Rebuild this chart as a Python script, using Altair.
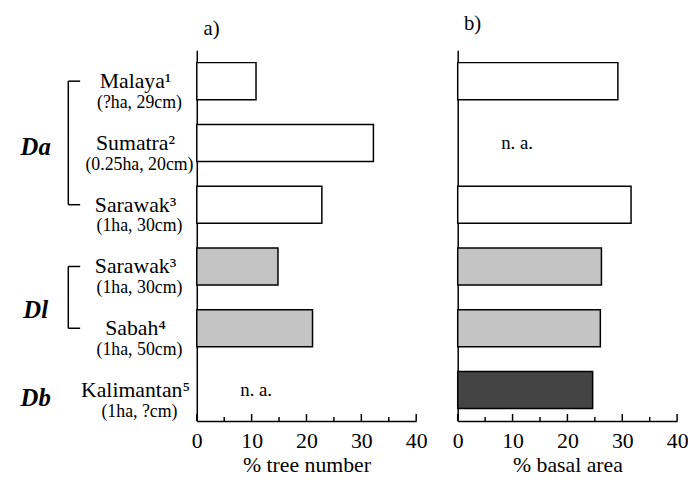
import altair as alt
import pandas as pd

# ---- data ----
keys = ["Malaya", "Sumatra", "Sarawak-Da", "Sarawak-Dl", "Sabah", "Kalimantan"]
names = ["Malaya¹", "Sumatra²", "Sarawak³", "Sarawak³", "Sabah⁴", "Kalimantan⁵"]
details = ["(?ha, 29cm)", "(0.25ha, 20cm)", "(1ha, 30cm)", "(1ha, 30cm)", "(1ha, 50cm)", "(1ha, ?cm)"]
groups = ["Da", "Da", "Da", "Dl", "Dl", "Db"]
tree_number = [10.8, 32.2, 22.8, 14.8, 21.1, None]
basal_area = [29.2, None, 31.6, 26.2, 26.0, 24.6]
major_ticks = [0, 10, 20, 30, 40]
minor_ticks = [5, 15, 25, 35]
panel_labels = ["a)", "b)"]
axis_titles = ["% tree number", "% basal area"]
group_names = ["Da", "Dl", "Db"]
group_colors = ["white", "#c4c4c4", "#444444"]

df = pd.DataFrame({"key": keys, "name": names, "detail": details, "group": groups,
                   "tree": tree_number, "basal": basal_area})

FONT = "Liberation Serif"
W, H = 222, 375

yscale = alt.Scale(domain=keys, paddingInner=0.4, paddingOuter=0.2)
xscale = alt.Scale(domain=[0, 40], nice=False, zero=True)
yaxis = alt.Axis(labels=False, ticks=False, tickSize=0, title=None, grid=False,
                 domainColor="black", domainWidth=1.5)


def xaxis(title):
    return alt.Axis(values=major_ticks, ticks=False, tickSize=0, grid=False,
                    labelFont=FONT, labelFontSize=22, labelColor="black",
                    labelPadding=10, labelFlush=False,
                    domainColor="black", domainWidth=1.5,
                    title=title, titleFont=FONT, titleFontSize=22,
                    titleFontWeight="normal", titleColor="black",
                    titlePadding=3)


def Y(field="key"):
    return alt.Y(f"{field}:N", scale=yscale, sort=keys, axis=yaxis)


def panel(col, title, label, label_y, with_labels):
    base = alt.Chart(df)
    X = lambda f: alt.X(f, scale=xscale, axis=xaxis(title))
    bars = base.transform_filter(f"isValid(datum.{col})").mark_bar(
        stroke="black", strokeWidth=1.5
    ).encode(
        x=X(f"{col}:Q"),
        y=Y(),
        color=alt.Color("group:N", scale=alt.Scale(domain=group_names, range=group_colors),
                        legend=None),
    )
    na = base.transform_filter(f"!isValid(datum.{col})").mark_text(
        text="n. a.", align="left", baseline="middle", font=FONT, fontSize=19, color="black"
    ).encode(x=alt.value(44), y=Y())

    major = alt.Chart(pd.DataFrame({"v": major_ticks})).mark_rule(
        color="black", strokeWidth=1.5
    ).encode(x=X("v:Q"), y=alt.value(H), y2=alt.value(H - 7))
    minor = alt.Chart(pd.DataFrame({"v": minor_ticks})).mark_rule(
        color="black", strokeWidth=1.5
    ).encode(x=X("v:Q"), y=alt.value(H), y2=alt.value(H - 4))

    plab = alt.Chart(pd.DataFrame({"t": [label]})).mark_text(
        font=FONT, fontSize=21, color="black", align="center", baseline="middle"
    ).encode(x=alt.value(15), y=alt.value(label_y), text="t:N")

    layers = [bars, na, major, minor, plab]

    if with_labels:
        nm = base.mark_text(font=FONT, fontSize=22, color="black", align="center",
                            baseline="middle").encode(x=alt.value(-62), y=Y(), text="name:N")
        dt = base.mark_text(font=FONT, fontSize=18, color="black", align="center",
                            baseline="middle", dy=22).encode(x=alt.value(-58), y=Y(),
                                                             text="detail:N")
        gl = []
        for g, k, dy in [("Da", "Sumatra", 4), ("Dl", "Sarawak-Dl", 44), ("Db", "Kalimantan", 8)]:
            gl.append(alt.Chart(pd.DataFrame({"g": [g], "key": [k]})).mark_text(
                font=FONT, fontSize=25, fontWeight="bold", fontStyle="italic",
                color="black", align="center", baseline="middle", dy=dy
            ).encode(x=alt.value(-163), y=Y(), text="g:N"))
        br = pd.DataFrame({"top": ["Malaya", "Sarawak-Dl"], "bottom": ["Sarawak-Da", "Sabah"]})
        vert = alt.Chart(br).mark_rule(color="black", strokeWidth=1.5).encode(
            x=alt.value(-130),
            y=alt.Y("top:N", scale=yscale, sort=keys, axis=yaxis),
            y2="bottom:N")
        arms = alt.Chart(pd.DataFrame({"key": ["Malaya", "Sarawak-Da", "Sarawak-Dl", "Sabah"]})
                         ).mark_rule(color="black", strokeWidth=1.5).encode(
            x=alt.value(-130), x2=alt.value(-118), y=Y())
        layers += [nm, dt, vert, arms] + gl

    return alt.layer(*layers).properties(width=W, height=H)


pa = panel("tree", axis_titles[0], panel_labels[0], -21, True)
pb = panel("basal", axis_titles[1], panel_labels[1], -27, False)

chart = alt.hconcat(pa, pb, spacing=42, bounds="flush").properties(
    padding={"left": 12, "top": 2, "right": 0, "bottom": 0}
).configure_view(stroke=None).configure_axis(labelFont=FONT, titleFont=FONT)

chart.save("out.html", embed_options={"renderer": "svg", "actions": False})
